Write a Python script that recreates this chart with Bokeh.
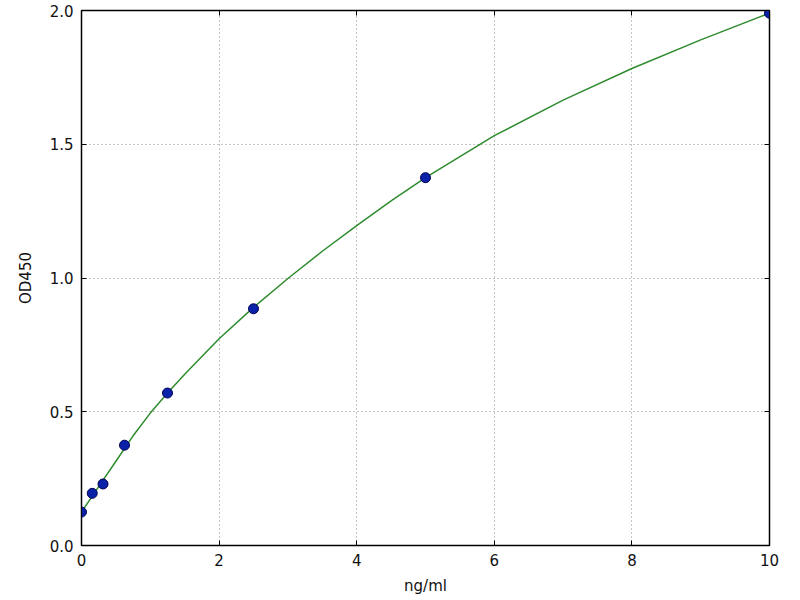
from bokeh.plotting import figure
from bokeh.models import LinearAxis, Range1d, FixedTicker
from bokeh.embed import file_html
from bokeh.resources import INLINE

# standards
conc = [0, 0.156, 0.3125, 0.625, 1.25, 2.5, 5, 10]
od = [0.125, 0.195, 0.23, 0.375, 0.57, 0.885, 1.375, 1.99]

# fitted curve
curve_x = [0, 0.25, 0.5, 0.75, 1, 1.25, 1.5, 2, 2.5, 3, 3.5, 4, 4.5, 5, 6, 7, 8, 9, 10]
curve_y = [0.125, 0.22, 0.315, 0.41, 0.495, 0.57, 0.64, 0.773, 0.89, 0.998, 1.1,
           1.196, 1.288, 1.375, 1.532, 1.665, 1.783, 1.89, 1.99]

xticks = [0, 2, 4, 6, 8, 10]
yticks = [0.0, 0.5, 1.0, 1.5, 2.0]

p = figure(width=800, height=600, output_backend="svg", toolbar_location=None,
           x_range=Range1d(0, 10), y_range=Range1d(0, 2.0),
           min_border_left=81, min_border_right=31, min_border_top=10, min_border_bottom=55)

p.outline_line_color = "black"
p.outline_line_width = 1.5
p.background_fill_color = "white"
p.border_fill_color = "white"

for ax in [p.xaxis[0], p.yaxis[0]]:
    ax.major_tick_in = 5
    ax.major_tick_out = 0
    ax.minor_tick_line_color = None
    ax.axis_line_color = "black"
    ax.major_tick_line_color = "black"
    ax.major_label_text_font = "DejaVu Sans"
    ax.major_label_text_font_size = "15px"
    ax.major_label_text_color = "#111111"
    ax.axis_label_text_font = "DejaVu Sans"
    ax.axis_label_text_font_size = "15px"
    ax.axis_label_text_font_style = "normal"
    ax.axis_label_text_color = "#111111"
    ax.major_label_standoff = 8

p.xaxis[0].ticker = FixedTicker(ticks=xticks)
p.yaxis[0].ticker = FixedTicker(ticks=yticks)
p.yaxis[0].major_label_overrides = {v: f"{v:.1f}" for v in yticks}
p.xaxis[0].axis_label = "ng/ml"
p.yaxis[0].axis_label = "OD450"
p.xaxis[0].axis_label_standoff = 8
p.yaxis[0].axis_label_standoff = 12

top = LinearAxis(ticker=FixedTicker(ticks=xticks), major_label_text_font_size="1px",
                 major_label_text_color=None, major_label_standoff=0,
                 major_tick_in=5, major_tick_out=0, minor_tick_line_color=None,
                 axis_line_color="black")
right = LinearAxis(ticker=FixedTicker(ticks=yticks), major_label_text_font_size="1px",
                   major_label_text_color=None, major_label_standoff=0,
                   major_tick_in=5, major_tick_out=0, minor_tick_line_color=None,
                   axis_line_color="black")
p.add_layout(top, "above")
p.add_layout(right, "right")

p.grid.grid_line_color = "#8a8a8a"
p.grid.grid_line_dash = "1 3"
p.grid.grid_line_width = 1
p.xgrid.ticker = FixedTicker(ticks=xticks)
p.ygrid.ticker = FixedTicker(ticks=yticks)

p.line(curve_x, curve_y, line_color="#2e8b2e", line_width=1.5)
p.scatter(conc, od, size=10, fill_color="#0a22a8", line_color="#000055", line_width=1)

open("out.html", "w").write(file_html(p, INLINE))
